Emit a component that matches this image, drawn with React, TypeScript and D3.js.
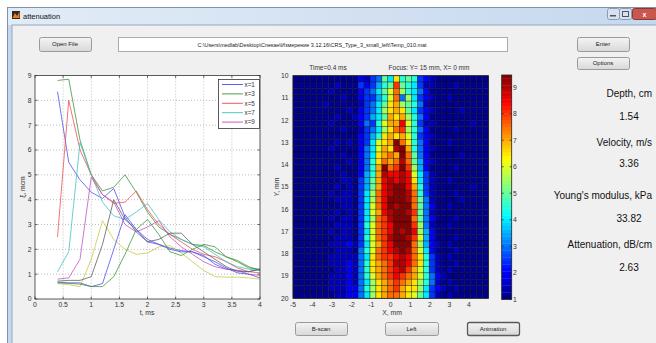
import React from "react";
import * as d3 from "d3";

const W = 656;
const H = 343;
const FONT = "'Liberation Sans', Arial, sans-serif";

// ---------- line chart data ----------
const tVals = [0.4, 0.6, 0.8, 1.0, 1.2, 1.4, 1.6, 1.8, 2.0, 2.2, 2.4, 2.6, 2.8, 3.0, 3.2, 3.4, 3.6, 3.8, 4.0];
const s1 = [8.35, 5.5, 4.8, 4.3, 4.05, 4.45, 3.3, 2.7, 2.3, 2.2, 2.05, 1.95, 1.9, 1.75, 1.4, 1.2, 1.15, 1.1, 1.2];
const s2 = [8.8, 8.85, 6.4, 5.0, 4.35, 4.5, 5.0, 4.3, 3.5, 2.9, 2.6, 2.4, 2.2, 2.15, 1.9, 1.7, 1.5, 1.25, 1.2];
const s3 = [2.5, 8.0, 6.0, 5.0, 4.2, 3.85, 3.9, 4.35, 3.6, 3.0, 2.6, 2.3, 2.0, 1.8, 1.7, 1.5, 1.25, 1.1, 1.05];
const s4 = [1.1, 1.9, 6.3, 5.0, 3.9, 3.35, 3.2, 3.5, 3.85, 3.2, 2.7, 2.4, 2.2, 2.1, 1.8, 1.5, 1.3, 1.2, 1.15];
const s5 = [0.8, 0.85, 1.6, 4.9, 4.2, 3.9, 3.0, 2.7, 2.9, 3.15, 2.5, 2.1, 1.8, 1.5, 1.3, 1.2, 1.15, 1.0, 0.95];
const s6 = [0.62, 0.58, 0.5, 1.6, 3.15, 2.4, 2.0, 1.8, 1.85, 2.1, 2.15, 1.85, 1.5, 1.15, 0.9, 0.88, 0.88, 0.85, 0.8];
const s7 = [0.72, 0.75, 0.75, 0.9, 2.2, 4.0, 3.2, 2.8, 2.3, 2.4, 2.65, 2.65, 2.2, 1.9, 1.6, 1.3, 1.1, 1.1, 1.2];
const s8 = [0.68, 0.65, 0.65, 0.5, 0.62, 2.0, 3.4, 2.8, 2.4, 2.2, 2.0, 1.9, 1.9, 1.7, 1.5, 1.25, 1.05, 1.0, 0.85];
const s9 = [0.65, 0.63, 0.6, 0.5, 0.5, 0.9, 1.8, 2.8, 3.2, 2.6, 1.9, 1.75, 2.0, 2.2, 2.1, 1.7, 1.55, 1.3, 1.15];
const seriesVals = [s1, s2, s3, s4, s5, s6, s7, s8, s9];
const seriesColors = ["#4a4aee", "#3a8f3a", "#ee4a4a", "#3cc0c0", "#c04cc0", "#c8c83a", "#5a5a5a", "#4a4aee", "#3a8f3a"];
const legendLabels = ["x=1", "x=3", "x=5", "x=7", "x=9"];
const lineXTicks = [0, 0.5, 1, 1.5, 2, 2.5, 3, 3.5, 4];
const lineYTicks = [0, 1, 2, 3, 4, 5, 6, 7, 8, 9];

// ---------- heatmap data (codes -> values) ----------
const HEAT_CODES = "0123456789ABCDEFGH";
const HEAT_VALUES = [1.1, 1.5, 2, 2.5, 3, 3.5, 4, 4.5, 5, 5.5, 6, 6.5, 7, 7.5, 8, 8.5, 9, 9.4];
const heatLeft = [
  "0000000000", "0000000100", "0000001000", "0000000010", "0000010000", "0000000001", "0000000100",
  "0000001000", "0000000010", "0000000000", "0000000101", "0000001000", "0000000010", "0000000001",
  "0000000100", "0000000010", "0000000011", "0000000101", "0000001011", "0000000111", "0000000011",
  "0000000101", "0000001011", "0000000111", "0000001011", "0000000111", "0000001112", "0000000111",
  "0000001111", "0000001112", "0000000112", "0000001112", "0000001112", "0000001112", "0000000112",
];
const heatBand = [
  "0213486B7873210", "0323578E8763110", "023468AD9764200", "023357AD4963210", "013468BC9874100",
  "023469BCB863210", "123568CBC974200", "02437ACCFA73110", "013469BDE974200", "02357BCBCA73210",
  "0236ABCHDB74200", "0246ACBGHC74210", "0246BCDCHD84200", "0247BDCDGD85210", "0247CHDEHE95200",
  "0257CGFFGFA6310", "0358CFGFGFB6310", "0358CFGHHFC7310", "0369DFGHHGD7310", "0369DFHHHGD8410",
  "036ADFHGHHD8420", "036ACFGHHGE8410", "0369DEGHHHD8420", "037ADEFHHHE9410", "036ADEFHGHF9520",
  "037ADEGHHGEA520", "136ACEFHHHD9521", "047ADEFGHGDA620", "146BDEEFGFDB731", "147BCDEGGFDB731",
  "147BCDEFGECA731", "147ACDEFEDCA742", "1469BCDEDCB9741", "2479BCDECBB9632", "2469BCDDCBA8631",
];
const heatRight = [
  "00000000", "00100000", "00000000", "01000000", "00000000", "00010000", "00000000",
  "00000100", "00100000", "00000000", "01000000", "00000000", "00010000", "00000000",
  "00100000", "00000000", "01000000", "00000100", "00100000", "00010000", "01000000",
  "00000000", "00100000", "01000000", "00000000", "00100000", "01000000", "00100000",
  "01000000", "00100000", "01000000", "10000000", "01000000", "10100000", "01000000",
];
const heatXTicks = [-5, -4, -3, -2, -1, 0, 1, 2, 3, 4];
const heatYTicks = [10, 11, 12, 13, 14, 15, 16, 17, 18, 19, 20];
const cbTicks = [1, 2, 3, 4, 5, 6, 7, 8, 9];
const CB_MIN = 1;
const CB_MAX = 9.46;

// ---------- panel texts ----------
const filePath = "C:\\Users\\medlab\\Desktop\\Спекан\\Измерение 3.12.16\\CRS_Type_3_small_left\\Temp_010.mat";
const resultLabels = ["Depth, cm", "Velocity, m/s", "Young's modulus, kPa", "Attenuation, dB/cm"];
const resultValues = ["1.54", "3.36", "33.82", "2.63"];

function jet(v: number): string {
  const t = Math.max(0, Math.min(1, (v - CB_MIN) / (CB_MAX - CB_MIN)));
  const c = (x: number) => Math.max(0, Math.min(1, x));
  const r = c(1.5 - Math.abs(4 * t - 3));
  const g = c(1.5 - Math.abs(4 * t - 2));
  const b = c(1.5 - Math.abs(4 * t - 1));
  return d3.rgb(r * 255, g * 255, b * 255).formatHex();
}

function Button({ x, y, w, h, label, strong }: { x: number; y: number; w: number; h: number; label: string; strong?: boolean }) {
  return (
    <g>
      <rect x={x + 0.5} y={y + 0.5} width={w} height={h} rx={2} fill="url(#btnGrad)" stroke={strong ? "#5a5a5a" : "#9a9a9a"} strokeWidth={strong ? 1.3 : 1} />
      <text x={x + w / 2} y={y + h / 2 + 2.2} fontSize={6} textAnchor="middle" fill="#222" fontFamily={FONT}>{label}</text>
    </g>
  );
}

export default function App() {
  const lx = d3.scaleLinear().domain([0, 4]).range([35, 260]);
  const ly = d3.scaleLinear().domain([0, 9]).range([299, 75.5]);
  const lineGen = d3.line<number>().x((_, i) => lx(tVals[i])).y((d) => ly(d));

  const hx = d3.scaleLinear().domain([-5, 5]).range([293, 488.5]);
  const hy = d3.scaleLinear().domain([10, 20]).range([75.7, 298.3]);
  const heatRows = heatBand.map((b, i) => heatLeft[i] + b + heatRight[i]);
  const nRows = heatRows.length;
  const nCols = heatRows[0].length;
  const cw = 10 / nCols;
  const rh = 10 / nRows;

  const cy = d3.scaleLinear().domain([CB_MIN, CB_MAX]).range([299.3, 75]);
  const cbSteps = 64;
  const cbX0 = 501.7;
  const cbX1 = 511.7;

  const legendX = 218;
  const legendY = 79;

  return (
    <svg width={W} height={H} style={{ position: "absolute", left: 0, top: 0 }} fontFamily={FONT}>
      <defs>
        <linearGradient id="titleGrad" x1="0" x2="1" y1="0" y2="0">
          <stop offset="0" stopColor="#e2ecf7" />
          <stop offset="1" stopColor="#c4d8ee" />
        </linearGradient>
        <linearGradient id="btnGrad" x1="0" x2="0" y1="0" y2="1">
          <stop offset="0" stopColor="#f4f4f4" />
          <stop offset="1" stopColor="#d8d8d8" />
        </linearGradient>
      </defs>
      <rect x={0} y={0} width={W} height={H} fill="#ffffff" />
      <rect x={7.5} y={7.5} width={660} height={350} fill="#c6d8ed" stroke="#8293a8" />
      <rect x={8} y={8} width={660} height={17} fill="url(#titleGrad)" />
      <rect x={12} y={11} width={8} height={8} fill="#2b2b2b" />
      <path d="M12.5,18 L15,13 L17,16 L19.5,11.5 L19.5,18 Z" fill="#f07a1a" />
      <text x={23} y={19} fontSize={7.5} fill="#111">attenuation</text>
      <rect x={607.5} y={8.5} width={12} height={11} rx={2} fill="#d6e2f1" stroke="#8a9cb4" />
      <rect x={610} y={15} width={6} height={1.5} fill="#555" />
      <rect x={619.5} y={8.5} width={12} height={11} rx={2} fill="#d6e2f1" stroke="#8a9cb4" />
      <rect x={622.5} y={11.5} width={6} height={5} fill="none" stroke="#555" />
      <rect x={632.5} y={8.5} width={24} height={11} rx={2} fill="#c9574e" stroke="#8a3a34" />
      <text x={644.5} y={17} fontSize={7} textAnchor="middle" fill="#fff" fontWeight="bold">x</text>
      <rect x={12} y={25} width={650} height={330} fill="#f0f0f0" stroke="#93a6be" />

      <Button x={39} y={37} w={52} h={14} label="Open File" />
      <rect x={118.5} y={37.5} width={389} height={14} fill="#ffffff" stroke="#a9acb2" />
      <text x={312} y={46.5} fontSize={6} textAnchor="middle" fill="#222" textLength={229} lengthAdjust="spacingAndGlyphs">{filePath}</text>
      <Button x={577} y={37} w={52} h={14} label="Enter" />
      <Button x={577} y={57} w={52} h={12} label="Options" />

      {/* line chart */}
      <rect x={35} y={75.5} width={225} height={223.5} fill="#ffffff" />
      {lineXTicks.slice(1, -1).map((t) => (
        <line key={"gx" + t} x1={lx(t)} x2={lx(t)} y1={75.5} y2={299} stroke="#a0a0a0" strokeWidth={0.7} strokeDasharray="1,2" />
      ))}
      {lineYTicks.slice(1, -1).map((v) => (
        <line key={"gy" + v} x1={35} x2={260} y1={ly(v)} y2={ly(v)} stroke="#a0a0a0" strokeWidth={0.7} strokeDasharray="1,2" />
      ))}
      {seriesVals.map((s, i) => (
        <path key={"s" + i} d={lineGen(s) || ""} fill="none" stroke={seriesColors[i]} strokeWidth={0.85} strokeOpacity={0.9} strokeLinejoin="round" />
      ))}
      <rect x={35} y={75.5} width={225} height={223.5} fill="none" stroke="#333" strokeWidth={0.8} />
      {lineXTicks.map((t) => (
        <g key={"xt" + t}>
          <line x1={lx(t)} x2={lx(t)} y1={299} y2={296.5} stroke="#333" strokeWidth={0.7} />
          <line x1={lx(t)} x2={lx(t)} y1={75.5} y2={78} stroke="#333" strokeWidth={0.7} />
          <text x={lx(t)} y={307} fontSize={6.8} textAnchor="middle" fill="#333">{String(t)}</text>
        </g>
      ))}
      {lineYTicks.map((v) => (
        <g key={"yt" + v}>
          <line x1={35} x2={37.5} y1={ly(v)} y2={ly(v)} stroke="#333" strokeWidth={0.7} />
          <line x1={260} x2={257.5} y1={ly(v)} y2={ly(v)} stroke="#333" strokeWidth={0.7} />
          <text x={31.5} y={ly(v) + 2.4} fontSize={6.8} textAnchor="end" fill="#333">{String(v)}</text>
        </g>
      ))}
      <text x={147} y={315} fontSize={6.8} textAnchor="middle" fill="#333">t, ms</text>
      <text transform="translate(24.5,187) rotate(-90)" fontSize={6.8} textAnchor="middle" fill="#333">ξ, mcm</text>
      <rect x={legendX + 0.5} y={legendY + 0.5} width={41} height={49} fill="#ffffff" stroke="#333" strokeWidth={0.8} />
      {legendLabels.map((lab, i) => {
        const yy = legendY + 5.5 + i * 9.4;
        return (
          <g key={lab}>
            <line x1={legendX + 4} x2={legendX + 25} y1={yy} y2={yy} stroke={seriesColors[i]} strokeWidth={0.9} />
            <text x={legendX + 26.5} y={yy + 2.3} fontSize={6.3} fill="#333">{lab}</text>
          </g>
        );
      })}

      {/* heatmap */}
      <text x={328} y={70} fontSize={6.5} textAnchor="middle" fill="#333">Time=0.4 ms</text>
      <text x={429} y={70} fontSize={6.5} textAnchor="middle" fill="#333">Focus: Y= 15 mm, X= 0 mm</text>
      {heatRows.map((row, r) =>
        row.split("").map((ch, c) => {
          const v = HEAT_VALUES[HEAT_CODES.indexOf(ch)];
          const x0 = hx(-5 + c * cw);
          const x1 = hx(-5 + (c + 1) * cw);
          const y0 = hy(10 + r * rh);
          const y1 = hy(10 + (r + 1) * rh);
          return <rect key={r + "_" + c} x={x0} y={y0} width={x1 - x0} height={y1 - y0} fill={jet(v)} stroke="#000" strokeOpacity={0.55} strokeWidth={0.6} />;
        })
      )}
      <rect x={293} y={75.7} width={195.5} height={222.6} fill="none" stroke="#222" strokeWidth={0.8} />
      {heatXTicks.map((t) => (
        <text key={"hx" + t} x={hx(t)} y={307} fontSize={6.8} textAnchor="middle" fill="#333">{String(t)}</text>
      ))}
      {heatYTicks.map((t) => (
        <text key={"hy" + t} x={288.5} y={hy(t) + 2.4} fontSize={6.8} textAnchor="end" fill="#333">{String(t)}</text>
      ))}
      <text x={392} y={315} fontSize={6.8} textAnchor="middle" fill="#333">X, mm</text>
      <text transform="translate(278.5,187) rotate(-90)" fontSize={6.8} textAnchor="middle" fill="#333">Y, mm</text>

      {d3.range(cbSteps).map((i) => {
        const v0 = CB_MIN + (i * (CB_MAX - CB_MIN)) / cbSteps;
        const v1 = CB_MIN + ((i + 1) * (CB_MAX - CB_MIN)) / cbSteps;
        return <rect key={"cb" + i} x={cbX0} y={cy(v1)} width={cbX1 - cbX0} height={cy(v0) - cy(v1) + 0.3} fill={jet((v0 + v1) / 2)} />;
      })}
      <rect x={cbX0} y={75} width={cbX1 - cbX0} height={224.3} fill="none" stroke="#222" strokeWidth={0.8} />
      {cbTicks.map((t) => (
        <g key={"cbt" + t}>
          <line x1={cbX1} x2={cbX1 - 2} y1={cy(t)} y2={cy(t)} stroke="#222" strokeWidth={0.7} />
          <line x1={cbX0} x2={cbX0 + 2} y1={cy(t)} y2={cy(t)} stroke="#222" strokeWidth={0.7} />
          <text x={513} y={cy(t) + 2.4} fontSize={6.8} fill="#333">{String(t)}</text>
        </g>
      ))}

      <Button x={295} y={322} w={52} h={13} label="B-scan" />
      <Button x={385} y={322} w={53} h={13} label="Left" />
      <Button x={467} y={322} w={52} h={13} label="Animation" strong />

      {resultLabels.map((lab, i) => {
        const baseL = [96.5, 145.5, 199, 248.3][i];
        const baseV = [120, 167.3, 221.7, 270.7][i];
        return (
          <g key={lab}>
            <text x={652} y={baseL} fontSize={10} textAnchor="end" fill="#111">{lab}</text>
            <text x={629} y={baseV} fontSize={10} textAnchor="middle" fill="#111">{resultValues[i]}</text>
          </g>
        );
      })}
    </svg>
  );
}
